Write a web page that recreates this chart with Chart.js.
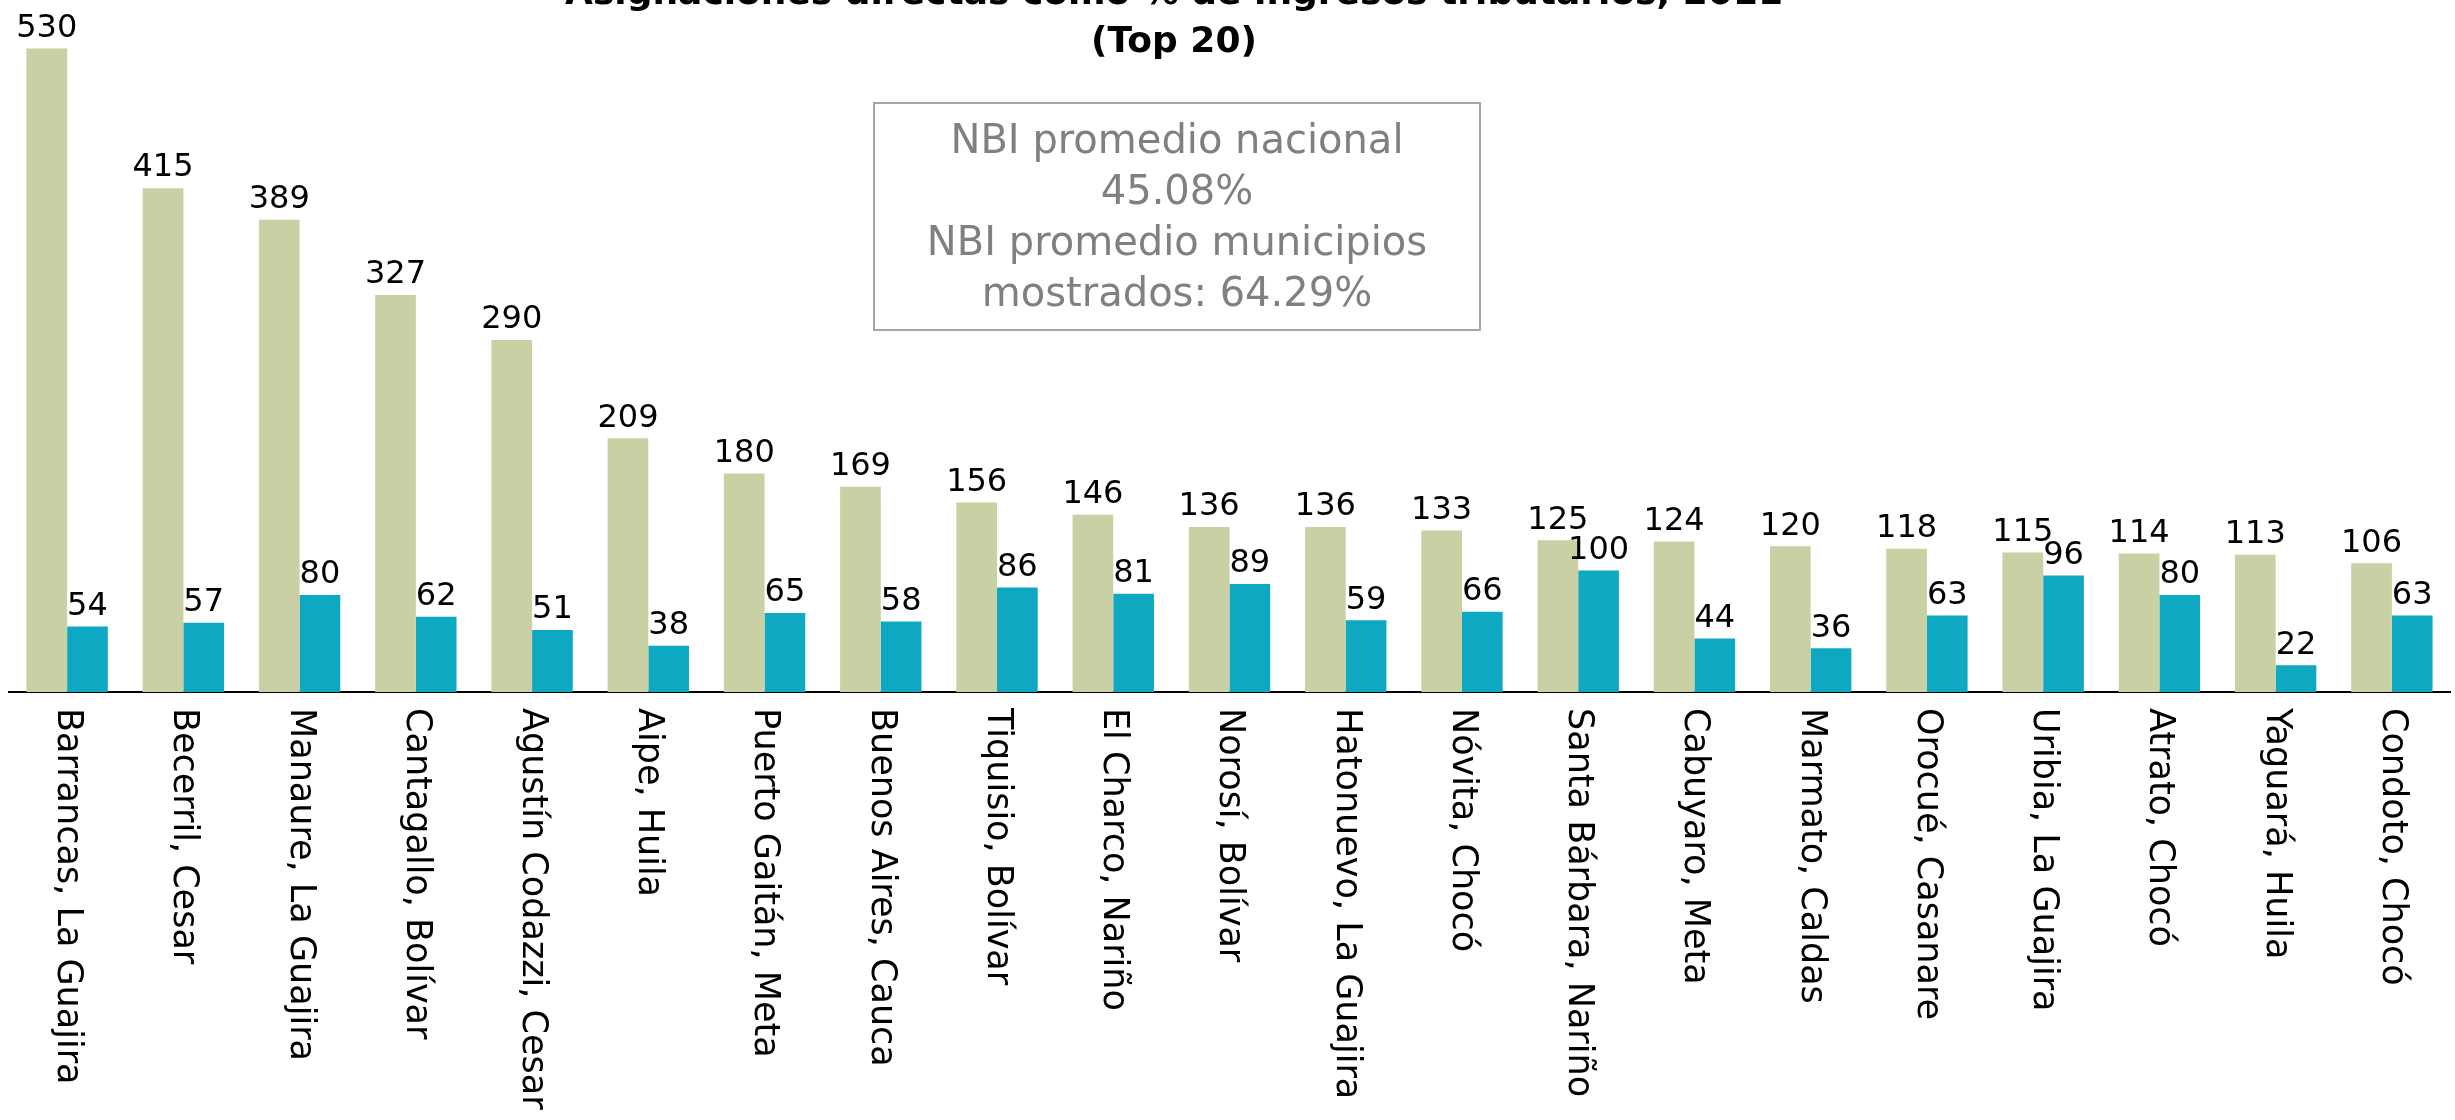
<!DOCTYPE html>
<html>
<head>
<meta charset="utf-8">
<script src="https://cdn.jsdelivr.net/npm/chart.js@4.4.1/dist/chart.umd.min.js"></script>
<style>
  html, body { margin: 0; padding: 0; background: #fff; }
  #wrap { position: relative; width: 2455px; height: 1120px; }
</style>
</head>
<body>
<div id="wrap"><canvas id="chart"></canvas></div>
<script>
// data
const categories = [
    'Barrancas, La Guajira', 'Becerril, Cesar', 'Manaure, La Guajira', 'Cantagallo, Bolívar',
    'Agustín Codazzi, Cesar', 'Aipe, Huila', 'Puerto Gaitán, Meta', 'Buenos Aires, Cauca',
    'Tiquisio, Bolívar', 'El Charco, Nariño', 'Norosí, Bolívar', 'Hatonuevo, La Guajira',
    'Nóvita, Chocó', 'Santa Bárbara, Nariño', 'Cabuyaro, Meta', 'Marmato, Caldas',
    'Orocué, Casanare', 'Uribia, La Guajira', 'Atrato, Chocó', 'Yaguará, Huila', 'Condoto, Chocó'
];
const asignaciones = [530, 415, 389, 327, 290, 209, 180, 169, 156, 146, 136, 136, 133, 125, 124, 120, 118, 115, 114, 113, 106];
const nbi = [54, 57, 80, 62, 51, 38, 65, 58, 86, 81, 89, 59, 66, 100, 44, 36, 63, 96, 80, 22, 63];
const titleLines = ['Asignaciones directas como % de ingresos tributarios, 2011', '(Top 20)'];
const boxLines = ['NBI promedio nacional', '45.08%', 'NBI promedio municipios', 'mostrados: 64.29%'];

const FONT = '"DejaVu Sans", sans-serif';

// value labels, rotated category names, title and the note box
const annotations = {
    id: 'annotations',
    afterDatasetsDraw(chart) {
        const ctx = chart.ctx;
        const area = chart.chartArea;
        ctx.save();

        ctx.font = '32px ' + FONT;
        ctx.fillStyle = '#000';
        ctx.textAlign = 'center';
        ctx.textBaseline = 'bottom';
        chart.data.datasets.forEach((ds, i) => {
            chart.getDatasetMeta(i).data.forEach((bar, j) => {
                ctx.fillText(String(ds.data[j]), bar.x, bar.y - 4);
            });
        });

        const xScale = chart.scales.x;
        ctx.font = '35px ' + FONT;
        ctx.textAlign = 'left';
        ctx.textBaseline = 'middle';
        categories.forEach((name, i) => {
            ctx.save();
            ctx.translate(xScale.getPixelForValue(i), area.bottom + 16);
            ctx.rotate(Math.PI / 2);
            ctx.fillText(name, 0, 0);
            ctx.restore();
        });

        // title, partly cut off at the top like the original
        ctx.font = 'bold 36px ' + FONT;
        ctx.textAlign = 'center';
        ctx.textBaseline = 'alphabetic';
        ctx.fillText(titleLines[0], 1174, 4);
        ctx.fillText(titleLines[1], 1174, 52);

        // note box
        ctx.strokeStyle = '#a6a6a6';
        ctx.lineWidth = 2;
        ctx.strokeRect(874, 103, 606, 227);
        ctx.font = '40px ' + FONT;
        ctx.fillStyle = '#808080';
        ctx.textBaseline = 'middle';
        boxLines.forEach((line, i) => {
            ctx.fillText(line, 1177, 143 + i * 51);
        });

        ctx.restore();
    }
};

const chart = new Chart(document.getElementById('chart'), {
    type: 'bar',
    data: {
        labels: categories,
        datasets: [{
            label: 'Asignaciones directas como % de ingresos tributarios',
            data: asignaciones,
            backgroundColor: '#c8d0a4',
            borderWidth: 0
        }, {
            label: 'NBI',
            data: nbi,
            backgroundColor: '#0ea8c2',
            borderWidth: 0
        }]
    },
    options: {
        responsive: true,
        maintainAspectRatio: false,
        animation: false,
        layout: {
            padding: { top: 0, bottom: 428, left: 9, right: 5 }
        },
        datasets: {
            bar: { categoryPercentage: 0.7, barPercentage: 1 }
        },
        scales: {
            x: {
                display: true,
                ticks: { display: false },
                grid: { display: false, drawTicks: false },
                border: { display: true, color: '#000', width: 2 }
            },
            y: {
                display: false,
                min: 0,
                max: 570
            }
        },
        plugins: {
            legend: { display: false },
            title: { display: false },
            tooltip: { enabled: false }
        }
    },
    plugins: [annotations]
});
</script>
</body>
</html>
